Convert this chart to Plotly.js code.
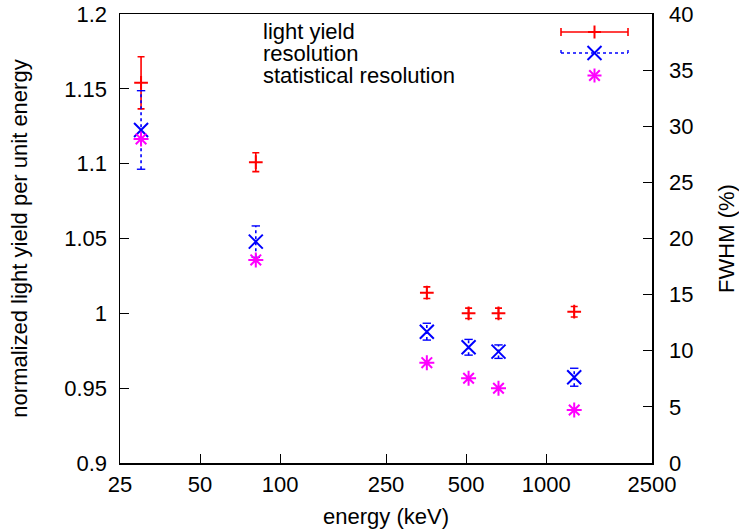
<!DOCTYPE html>
<html>
<head>
<meta charset="utf-8">
<script src="https://cdn.plot.ly/plotly-3.0.1.min.js"></script>
<style>
  html, body { margin: 0; padding: 0; background: #fff; }
  #chart { width: 739px; height: 531px; }
</style>
</head>
<body>
<div id="chart"></div>
<script>
// Source energies (keV)
const energy = [30, 81, 356, 511, 662, 1275];

// Normalized light yield per unit energy (left axis) and its uncertainty
const lightYield = [1.154, 1.101, 1.0138, 1.000, 1.000, 1.0011];
const lightYieldErr = [0.0174, 0.0063, 0.0039, 0.0035, 0.0035, 0.0035];

// Measured energy resolution, FWHM % (right axis) and its uncertainty
const resolution = [29.67, 19.72, 11.70, 10.31, 9.92, 7.64];
const resolutionErr = [3.5, 1.4, 0.75, 0.7, 0.6, 0.8];

// Statistical (photon counting) resolution, FWHM %
const statResolution = [28.87, 18.09, 8.94, 7.55, 6.66, 4.72];

// Axis ticks
const xTickVals = [25, 50, 100, 250, 500, 1000, 2500];
const xTickText = ['25', '50', '100', '250', '500', '1000', '2500'];
const yTickVals = [0.9, 0.95, 1, 1.05, 1.1, 1.15, 1.2];
const yTickText = ['0.9', '0.95', '1', '1.05', '1.1', '1.15', '1.2'];
const y2TickVals = [0, 5, 10, 15, 20, 25, 30, 35, 40];
const y2TickText = ['0', '5', '10', '15', '20', '25', '30', '35', '40'];

// Series names
const seriesNames = ['light yield', 'resolution', 'statistical resolution'];

const RED = '#ff0000', BLUE = '#0000ff', MAGENTA = '#ff00ff';
const FONT = 'Liberation Sans, Arial, Helvetica, sans-serif';
const FS = 22;

// Plot frame in pixels (used for the key placed inside the frame)
const M = { l: 120, r: 87, t: 14, b: 68 };
const W = 739, H = 531;
const plotW = W - M.l - M.r, plotH = H - M.t - M.b;
const px = x => (x - M.l) / plotW;
const py = y => (H - M.b - y) / plotH;

// Dotted vertical error segments for the resolution series
const resBarX = [], resBarY = [], capX = [], capY = [];
energy.forEach((e, i) => {
  resBarX.push(e, e, null);
  resBarY.push(resolution[i] - resolutionErr[i], resolution[i] + resolutionErr[i], null);
  capX.push(e, e);
  capY.push(resolution[i] - resolutionErr[i], resolution[i] + resolutionErr[i]);
});

const traces = [
  {
    x: energy, y: lightYield, yaxis: 'y', name: seriesNames[0],
    mode: 'markers', type: 'scatter',
    marker: { symbol: 'cross-thin', size: 9.8, color: RED, line: { color: RED, width: 2 } },
    error_y: { type: 'data', array: lightYieldErr, visible: true, color: RED, thickness: 1.6, width: 3.5 }
  },
  {
    x: resBarX, y: resBarY, yaxis: 'y2', mode: 'lines', type: 'scatter',
    line: { color: BLUE, width: 1.6, dash: 'dot' }, connectgaps: false, hoverinfo: 'skip'
  },
  {
    x: capX, y: capY, yaxis: 'y2', mode: 'markers', type: 'scatter',
    marker: { symbol: 'line-ew', size: 6, color: BLUE, line: { color: BLUE, width: 1.4 } }, hoverinfo: 'skip'
  },
  {
    x: energy, y: resolution, yaxis: 'y2', name: seriesNames[1],
    mode: 'markers', type: 'scatter',
    marker: { symbol: 'x-thin', size: 14, color: BLUE, line: { color: BLUE, width: 2 } }
  },
  {
    x: energy, y: statResolution, yaxis: 'y2', name: seriesNames[2],
    mode: 'markers', type: 'scatter',
    marker: { symbol: 'asterisk', size: 12.5, color: MAGENTA, line: { color: MAGENTA, width: 2 } }
  }
];

// Key: text on the left, sample glyph on the right
const keyTextX = 262, keyLineX0 = 561, keyLineX1 = 628, keyMidX = 594.5;
const keyRows = [32, 53, 75.5];
const seg = (x0, y0, x1, y1, color, width, dash) => ({
  type: 'line', xref: 'paper', yref: 'paper',
  x0: px(x0), y0: py(y0), x1: px(x1), y1: py(y1),
  line: { color: color, width: width, dash: dash || 'solid' }
});
const shapes = [];
// light yield sample
let r = keyRows[0];
shapes.push(seg(keyLineX0, r, keyLineX1, r, RED, 1.6));
shapes.push(seg(keyLineX0, r - 4, keyLineX0, r + 4, RED, 1.6));
shapes.push(seg(keyLineX1, r - 4, keyLineX1, r + 4, RED, 1.6));
shapes.push(seg(keyMidX, r - 6.5, keyMidX, r + 6.5, RED, 2));
shapes.push(seg(keyMidX - 6.5, r, keyMidX + 6.5, r, RED, 2));
// resolution sample
r = keyRows[1];
shapes.push(seg(keyLineX0, r, keyLineX1, r, BLUE, 1.6, 'dot'));
shapes.push(seg(keyLineX0, r - 3, keyLineX0, r + 3, BLUE, 1.4, 'dot'));
shapes.push(seg(keyLineX1, r - 3, keyLineX1, r + 3, BLUE, 1.4, 'dot'));
shapes.push(seg(keyMidX - 7, r - 7, keyMidX + 7, r + 7, BLUE, 2));
shapes.push(seg(keyMidX - 7, r + 7, keyMidX + 7, r - 7, BLUE, 2));
// statistical resolution sample
r = keyRows[2];
shapes.push(seg(keyMidX, r - 7, keyMidX, r + 7, MAGENTA, 2));
shapes.push(seg(keyMidX - 7, r, keyMidX + 7, r, MAGENTA, 2));
shapes.push(seg(keyMidX - 5.3, r - 5.3, keyMidX + 5.3, r + 5.3, MAGENTA, 2));
shapes.push(seg(keyMidX - 5.3, r + 5.3, keyMidX + 5.3, r - 5.3, MAGENTA, 2));

const annotations = seriesNames.map((name, i) => ({
  text: name, xref: 'paper', yref: 'paper',
  x: px(keyTextX), y: py(keyRows[i]), xanchor: 'left', yanchor: 'middle',
  borderpad: 0,
  showarrow: false, font: { family: FONT, size: FS, color: '#000' }
}));

const axisCommon = {
  showgrid: false, zeroline: false, showline: true, linecolor: '#000', linewidth: 1.5,
  ticks: 'inside', ticklen: 9, tickwidth: 1, tickcolor: '#000',
  tickfont: { family: FONT, size: FS, color: '#000' }
};

const layout = {
  width: W, height: H,
  margin: M,
  paper_bgcolor: '#fff', plot_bgcolor: '#fff',
  showlegend: false,
  font: { family: FONT, size: FS, color: '#000' },
  xaxis: Object.assign({}, axisCommon, {
    type: 'log', range: [Math.log10(25), Math.log10(2500)],
    tickmode: 'array', tickvals: xTickVals, ticktext: xTickText,
    mirror: true, ticklabelstandoff: 1,
    title: { text: 'energy (keV)', font: { family: FONT, size: FS }, standoff: 12 }
  }),
  yaxis: Object.assign({}, axisCommon, {
    range: [0.9, 1.2], tickmode: 'array', tickvals: yTickVals, ticktext: yTickText,
    ticklabelstandoff: 7,
    title: { text: 'normalized light yield per unit energy', font: { family: FONT, size: FS }, standoff: 30 }
  }),
  yaxis2: Object.assign({}, axisCommon, {
    overlaying: 'y', side: 'right', range: [0, 40],
    tickmode: 'array', tickvals: y2TickVals, ticktext: y2TickText,
    ticklabelstandoff: 11,
    title: { text: 'FWHM (%)', font: { family: FONT, size: FS }, standoff: 30 }
  }),
  shapes: shapes,
  annotations: annotations
};

Plotly.newPlot('chart', traces, layout, { displayModeBar: false, staticPlot: true });
</script>
</body>
</html>
